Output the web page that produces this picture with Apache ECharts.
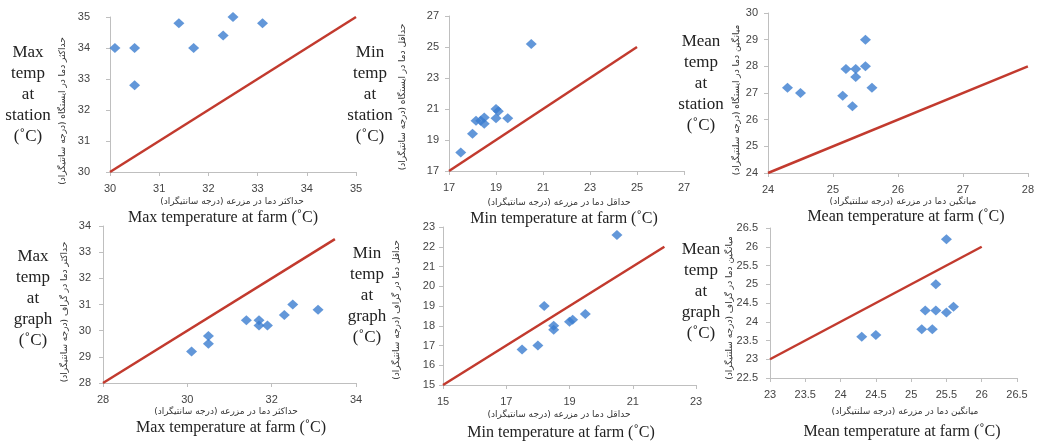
<!DOCTYPE html>
<html>
<head>
<meta charset="utf-8">
<style>
  html, body { margin: 0; padding: 0; background: #ffffff; }
  #chart { width: 1037px; height: 443px; }
</style>
<script src="https://cdn.jsdelivr.net/npm/echarts@6/dist/echarts.min.js"></script>
</head>
<body>
<div id="chart"></div>
<script>
// Paired observations: [farm temperature, station/graph temperature] in °C
const maxFarmStation = [[30.1, 34.0], [30.5, 34.0], [30.5, 32.8], [31.4, 34.8], [31.7, 34.0], [32.3, 34.4], [32.5, 35.0], [33.1, 34.8]];
const minFarmStation = [[17.5, 18.2], [18.0, 19.4], [18.15, 20.25], [18.35, 20.25], [18.5, 20.45], [18.5, 20.05], [19.0, 21.0], [19.1, 20.85], [19.0, 20.4], [19.5, 20.4], [20.5, 25.2]];
const meanFarmStation = [[24.3, 27.2], [24.5, 27.0], [25.15, 26.9], [25.2, 27.9], [25.3, 26.5], [25.35, 27.9], [25.35, 27.6], [25.5, 29.0], [25.5, 28.0], [25.6, 27.2]];
const maxFarmGraph = [[30.1, 29.2], [30.5, 29.8], [30.5, 29.5], [31.4, 30.4], [31.7, 30.4], [31.7, 30.2], [31.9, 30.2], [32.3, 30.6], [32.5, 31.0], [33.1, 30.8]];
const minFarmGraph = [[17.5, 16.8], [18.0, 17.0], [18.2, 19.0], [18.5, 18.0], [18.5, 17.8], [19.0, 18.2], [19.1, 18.3], [19.5, 18.6], [20.5, 22.6]];
const meanFarmGraph = [[24.3, 23.6], [24.5, 23.65], [25.15, 23.8], [25.3, 23.8], [25.2, 24.3], [25.35, 24.3], [25.35, 25.0], [25.5, 24.25], [25.6, 24.4], [25.5, 26.2]];

// 1:1 reference lines
const lineMaxStation = [[30, 30], [35, 35]];
const lineMinStation = [[17, 17], [25, 25]];
const lineMeanStation = [[24, 24], [28, 28]];
const lineMaxGraph = [[28, 28], [33.5, 33.5]];
const lineMinGraph = [[15, 15], [22, 22]];
const lineMeanGraph = [[23, 23], [26, 26]];

// Axis ranges: [min, max, interval]
const xRanges = [[30, 35, 1], [17, 27, 2], [24, 28, 1], [28, 34, 2], [15, 23, 2], [23, 26.5, 0.5]];
const yRanges = [[30, 35, 1], [17, 27, 2], [24, 30, 1], [28, 34, 1], [15, 23, 1], [22.5, 26.5, 0.5]];

// Text
const sideLabels = [
  'Max\ntemp\nat\nstation\n(˚C)', 'Min\ntemp\nat\nstation\n(˚C)', 'Mean\ntemp\nat\nstation\n(˚C)',
  'Max\ntemp\nat\ngraph\n(˚C)', 'Min\ntemp\nat\ngraph\n(˚C)', 'Mean\ntemp\nat\ngraph\n(˚C)'
];
const xTitles = [
  'Max temperature at farm (˚C)', 'Min temperature at farm (˚C)', 'Mean temperature at farm (˚C)',
  'Max temperature at farm (˚C)', 'Min temperature at farm (˚C)', 'Mean temperature at farm (˚C)'
];
const xTitlesFa = [
  'حداکثر دما در مزرعه (درجه سانتیگراد)', 'حداقل دما در مزرعه (درجه سانتیگراد)', 'میانگین دما در مزرعه (درجه سلنتیگراد)',
  'حداکثر دما در مزرعه (درجه سانتیگراد)', 'حداقل دما در مزرعه (درجه سانتیگراد)', 'میانگین دما در مزرعه (درجه سلنتیگراد)'
];
const yTitlesFa = [
  'حداکثر دما در ایستگاه (درجه سانتیگراد)', 'حداقل دما در ایستگاه (درجه سانتیگراد)', 'میانگین دما در ایستگاه (درجه سلنتیگراد)',
  'حداکثر دما در گراف (درجه سانتیگراد)', 'حداقل دما در گراف (درجه سانتیگراد)', 'میانگین دما در گراف (درجه سلنتیگراد)'
];

const points = [maxFarmStation, minFarmStation, meanFarmStation, maxFarmGraph, minFarmGraph, meanFarmGraph];
const lines = [lineMaxStation, lineMinStation, lineMeanStation, lineMaxGraph, lineMinGraph, lineMeanGraph];

// Panel layout
const grids = [
  { left: 110, top: 17, width: 246, height: 155 },
  { left: 449, top: 16, width: 235, height: 155 },
  { left: 768, top: 13, width: 264, height: 160 },
  { left: 103, top: 226, width: 253, height: 157 },
  { left: 443, top: 227, width: 253, height: 158 },
  { left: 770, top: 228, width: 247, height: 150 }
];
const yLabelMargin = [20, 10, 10, 12, 8, 12];
const sidePos = [[28, 42], [370, 42], [701, 31], [33, 246], [367, 243], [701, 239]];
const faXPos = [[232, 202], [559, 203], [903, 202], [226, 412], [559, 415], [905, 412]];
const enXPos = [[223, 218], [564, 219], [906, 217], [231, 428], [561, 433], [902, 432]];
const faYPos = [[63, 111], [403, 97], [737, 100], [65, 312], [397, 310], [730, 308]];

const BLUE = '#3B7DD0';
const RED = '#C23A2E';
const AXIS = '#BFBFBF';
const SERIF = '"Liberation Serif", "DejaVu Serif", serif';
const SANS = '"Liberation Sans", Arial, sans-serif';
const FA = '"DejaVu Sans", sans-serif';

const option = {
  animation: false,
  backgroundColor: '#ffffff',
  grid: grids.map(g => Object.assign({ containLabel: false }, g)),
  xAxis: xRanges.map((r, i) => ({
    type: 'value', gridIndex: i, min: r[0], max: r[1], interval: r[2],
    splitLine: { show: false },
    axisLine: { show: true, onZero: false, lineStyle: { color: AXIS, width: 1 } },
    axisTick: { show: true, length: 4, lineStyle: { color: AXIS } },
    axisLabel: { margin: 11, color: '#444', fontSize: 11, fontFamily: SANS }
  })),
  yAxis: yRanges.map((r, i) => ({
    type: 'value', gridIndex: i, min: r[0], max: r[1], interval: r[2],
    splitLine: { show: false },
    axisLine: { show: true, onZero: false, lineStyle: { color: AXIS, width: 1 } },
    axisTick: { show: true, length: 4, lineStyle: { color: AXIS } },
    axisLabel: { margin: yLabelMargin[i], color: '#444', fontSize: 11, fontFamily: SANS }
  })),
  series: [],
  graphic: []
};

for (let i = 0; i < 6; i++) {
  option.series.push({
    type: 'line', xAxisIndex: i, yAxisIndex: i, data: lines[i],
    symbol: 'none', lineStyle: { color: RED, width: 2.5 }, z: 2, silent: true
  });
  option.series.push({
    type: 'scatter', xAxisIndex: i, yAxisIndex: i, data: points[i],
    symbol: 'diamond', symbolSize: [11, 10], itemStyle: { color: BLUE }, z: 3
  });
  // Row label to the left of each panel
  option.graphic.push({
    type: 'text', x: sidePos[i][0], y: sidePos[i][1],
    style: {
      text: sideLabels[i], font: '17px ' + SERIF, fill: '#222',
      textAlign: 'center', textVerticalAlign: 'top', lineHeight: 21
    }
  });
  option.graphic.push({
    type: 'text', x: faXPos[i][0], y: faXPos[i][1],
    style: { text: xTitlesFa[i], font: '9px ' + FA, fill: '#333', textAlign: 'center', textVerticalAlign: 'middle' }
  });
  option.graphic.push({
    type: 'text', x: enXPos[i][0], y: enXPos[i][1],
    style: { text: xTitles[i], font: '16px ' + SERIF, fill: '#222', textAlign: 'center', textVerticalAlign: 'middle' }
  });
  option.graphic.push({
    type: 'text', x: faYPos[i][0], y: faYPos[i][1], rotation: Math.PI / 2,
    style: { text: yTitlesFa[i], font: '9px ' + FA, fill: '#333', textAlign: 'center', textVerticalAlign: 'middle' }
  });
}

const chart = echarts.init(document.getElementById('chart'), null, { renderer: 'canvas' });
chart.setOption(option);
</script>
</body>
</html>
